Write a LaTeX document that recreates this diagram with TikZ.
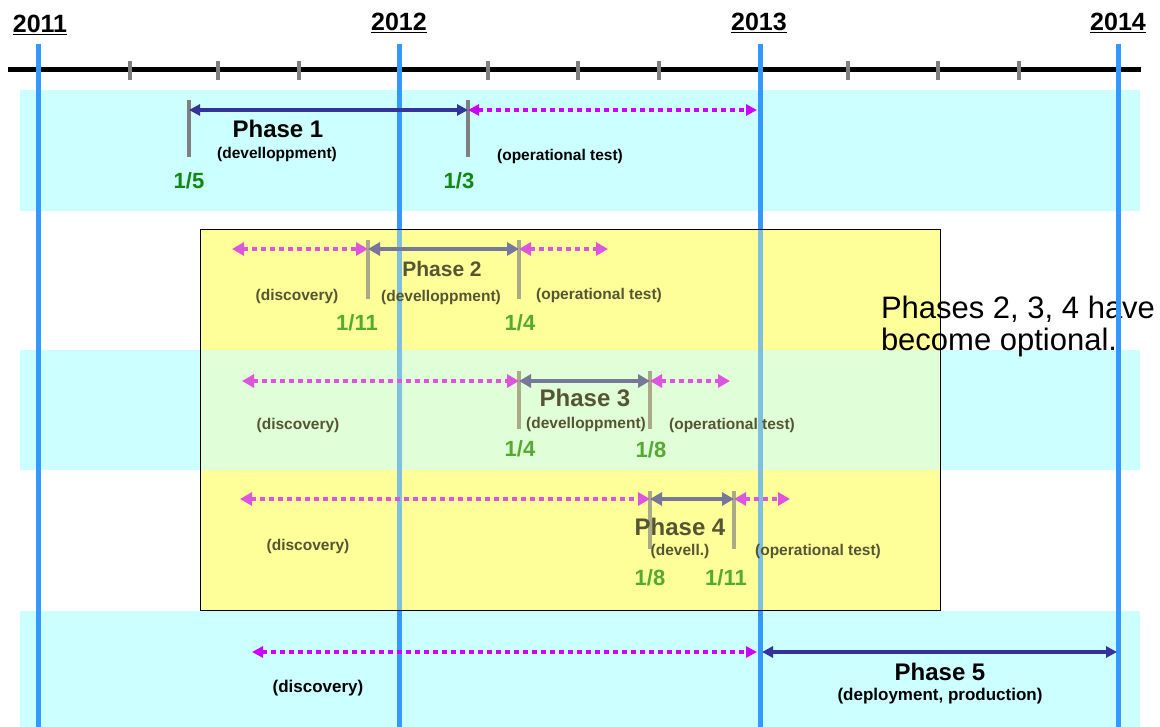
\documentclass[tikz,border=0pt]{standalone}
\usepackage{fontspec}
\setmainfont{Liberation Sans}
\usetikzlibrary{arrows.meta}
\definecolor{cyanband}{HTML}{CCFFFF}
\definecolor{yellowbox}{HTML}{FFFF99}
\definecolor{greenband}{HTML}{E0FFD8}
\definecolor{blueline}{HTML}{3399FF}
\definecolor{paleblue}{HTML}{7FBFDF}
\definecolor{darkblue}{HTML}{333399}
\definecolor{vivmag}{HTML}{CC00FF}
\definecolor{softmag}{HTML}{DD55DD}
\definecolor{slate}{HTML}{777799}
\definecolor{bargray}{HTML}{808080}
\definecolor{barolive}{HTML}{AAAA88}
\definecolor{dategreen}{HTML}{118811}
\definecolor{softgreen}{HTML}{55AA33}
\definecolor{olivetext}{HTML}{555533}
\begin{document}
\begin{tikzpicture}[x=1pt,y=-1pt,
  every node/.style={inner sep=0pt, outer sep=0pt},
  yearlbl/.style={font=\fontsize{25}{27}\selectfont\bfseries},
  phaselbl/.style={font=\fontsize{24}{26}\selectfont\bfseries},
  smalllbl/.style={font=\fontsize{15.5}{17}\selectfont\bfseries},
  biglbl/.style={font=\fontsize{17}{19}\selectfont\bfseries},
  datelbl/.style={font=\fontsize{22}{24}\selectfont\bfseries},
  notelbl/.style={font=\fontsize{31}{33}\selectfont, anchor=base west},
  yearline/.style={draw=blueline, line width=5pt},
  bar1/.style={draw=bargray, line width=4pt},
  bar2/.style={draw=barolive, line width=4pt},
  tip1/.style={{Triangle[length=11pt,width=11pt]}-{Triangle[length=11pt,width=11pt]}},
  tip2/.style={{Triangle[length=12pt,width=13pt]}-{Triangle[length=12pt,width=13pt]}},
  dev1/.style={draw=darkblue, line width=4pt, tip1},
  dev2/.style={draw=slate, line width=4pt, tip2},
  test1/.style={draw=vivmag, line width=4pt, dash pattern=on 5pt off 4pt, tip1},
  test2/.style={draw=softmag, line width=4pt, dash pattern=on 5pt off 4pt, tip2},
]
\useasboundingbox (0,0) rectangle (1160,727);
\fill[white] (0,0) rectangle (1160,727);
% bands
\fill[cyanband] (20,90) rectangle (1140,211);
\fill[cyanband] (20,350) rectangle (1140,470);
\fill[cyanband] (20,611) rectangle (1140,727);
% timeline
\draw[black, line width=5pt] (8,70) -- (1141,70);
\foreach \x in {130,218,299,488,578,659,848,938,1019}
  \draw[bargray, line width=4pt] (\x,61) -- (\x,80);
% year lines (2011-2013)
\foreach \x in {38,399,760}
  \draw[yearline] (\x,44) -- (\x,727);
% yellow box fill
\fill[yellowbox] (200,229) rectangle (940,610);
\fill[greenband] (200,350) rectangle (940,470);
\foreach \x in {399,760}
  \draw[paleblue, line width=5pt] (\x,229.4) -- (\x,609.6);
% ---- note
\node[notelbl] (n1) at (881,319) {Phases 2, 3, 4 have};
\node[notelbl] (n2) at (881,351) {become optional.};
% box border and 2014 line above the note
\draw[black, line width=0.8pt] (200,229) rectangle (940,610);
\draw[yearline] (1118,44) -- (1118,727);
% years
\node[yearlbl] (y11) at (40,25) {\underline{2011}};
\node[yearlbl] (y12) at (399,23) {\underline{2012}};
\node[yearlbl] (y13) at (759,23) {\underline{2013}};
\node[yearlbl] (y14) at (1118,23) {\underline{2014}};

% ---- Phase 1
\coordinate (a1) at (189,110);
\coordinate (b1) at (468,110);
\coordinate (c1) at (757,110);
\draw[bar1] (189,100) -- (189,157);
\draw[bar1] (468,100) -- (468,157);
\draw[dev1] (a1) -- (b1);
\draw[test1] (b1) -- (c1);
\node[phaselbl] (ph1) at (278,129) {Phase 1};
\node[smalllbl] (d1) at (277,154) {(develloppment)};
\node[smalllbl] (o1) at (560,156) {(operational test)};
\node[datelbl, dategreen] (s1) at (189,181) {1/5};
\node[datelbl, dategreen] (e1) at (459,181) {1/3};

% ---- Phase 2
\coordinate (z2) at (232,249);
\coordinate (a2) at (368,249);
\coordinate (b2) at (519,249);
\coordinate (c2) at (608,249);
\draw[bar2] (368,240) -- (368,299);
\draw[bar2] (519,240) -- (519,299);
\draw[test2] (z2) -- (a2);
\draw[dev2] (a2) -- (b2);
\draw[test2] (b2) -- (c2);
\node[phaselbl, olivetext, font=\fontsize{21}{23}\selectfont\bfseries] (ph2) at (442,269) {Phase 2};
\node[smalllbl, olivetext] (d2) at (441,297) {(develloppment)};
\node[smalllbl, olivetext] (q2) at (297,296) {(discovery)};
\node[smalllbl, olivetext] (o2) at (599,295) {(operational test)};
\node[datelbl, softgreen] (s2) at (357,323) {1/11};
\node[datelbl, softgreen] (e2) at (520,323) {1/4};

% ---- Phase 3
\coordinate (z3) at (242,381);
\coordinate (a3) at (519,381);
\coordinate (b3) at (650,381);
\coordinate (c3) at (730,381);
\draw[bar2] (519,371) -- (519,429);
\draw[bar2] (650,371) -- (650,429);
\draw[test2] (z3) -- (a3);
\draw[dev2] (a3) -- (b3);
\draw[test2] (b3) -- (c3);
\node[phaselbl, olivetext] (ph3) at (585,398) {Phase 3};
\node[smalllbl, olivetext] (d3) at (586,424) {(develloppment)};
\node[smalllbl, olivetext] (q3) at (298,425) {(discovery)};
\node[smalllbl, olivetext] (o3) at (732,425) {(operational test)};
\node[datelbl, softgreen] (s3) at (520,449) {1/4};
\node[datelbl, softgreen] (e3) at (651,450) {1/8};

% ---- Phase 4
\coordinate (z4) at (240,499);
\coordinate (a4) at (650,499);
\coordinate (b4) at (734,499);
\coordinate (c4) at (790,499);
\draw[bar2] (650,491) -- (650,549);
\draw[bar2] (734,491) -- (734,549);
\draw[test2] (z4) -- (a4);
\draw[dev2] (a4) -- (b4);
\draw[test2] (b4) -- (c4);
\node[phaselbl, olivetext] (ph4) at (680,527) {Phase 4};
\node[smalllbl, olivetext] (d4) at (680,551) {(devell.)};
\node[smalllbl, olivetext] (q4) at (308,546) {(discovery)};
\node[smalllbl, olivetext] (o4) at (818,551) {(operational test)};
\node[datelbl, softgreen] (s4) at (650,578) {1/8};
\node[datelbl, softgreen] (e4) at (726,578) {1/11};

% ---- Phase 5
\coordinate (z5) at (252,652);
\coordinate (c5) at (757,652);
\coordinate (a5) at (762,652);
\coordinate (b5) at (1117,652);
\draw[test1] (z5) -- (c5);
\draw[dev1] (a5) -- (b5);
\node[phaselbl] (ph5) at (940,672) {Phase 5};
\node[biglbl] (d5) at (940,696) {(deployment, production)};
\node[biglbl] (q5) at (318,688) {(discovery)};
\end{tikzpicture}
\end{document}
